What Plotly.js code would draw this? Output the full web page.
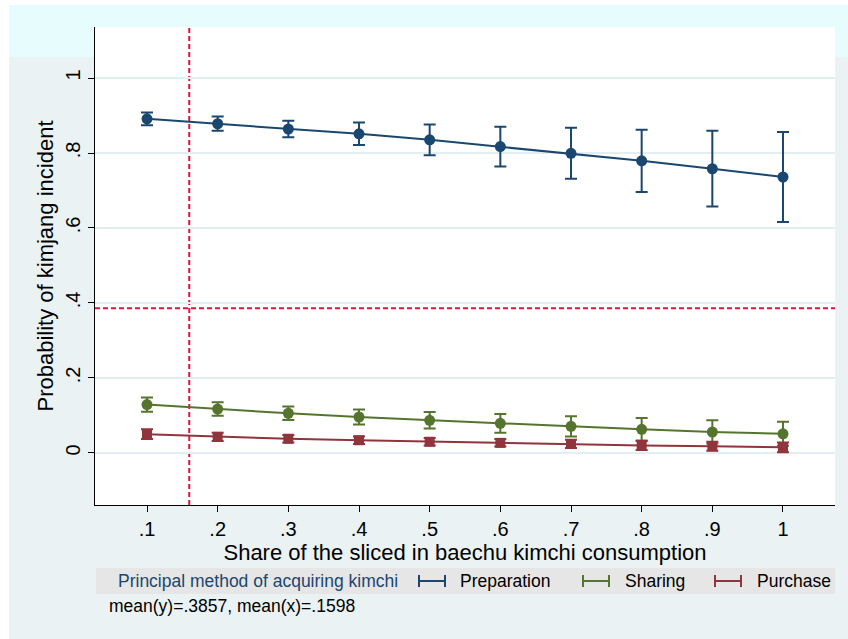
<!DOCTYPE html>
<html>
<head>
<meta charset="utf-8">
<script src="https://cdn.plot.ly/plotly-3.0.1.min.js"></script>
<style>html,body{margin:0;padding:0;background:#fff;}</style>
</head>
<body>
<div id="chart" style="width:848px;height:639px;"></div>
<script>
// ---- data ----
const xShare = [0.1, 0.2, 0.3, 0.4, 0.5, 0.6, 0.7, 0.8, 0.9, 1.0];
const xTickText = ['.1', '.2', '.3', '.4', '.5', '.6', '.7', '.8', '.9', '1'];
const yTickVals = [0, 0.2, 0.4, 0.6, 0.8, 1];
const yTickText = ['0', '.2', '.4', '.6', '.8', '1'];

const prepY   = [0.891, 0.878, 0.864, 0.851, 0.835, 0.817, 0.799, 0.779, 0.758, 0.736];
const prepErr = [0.017, 0.019, 0.022, 0.030, 0.041, 0.053, 0.068, 0.083, 0.101, 0.120];

const shareY   = [0.129, 0.117, 0.106, 0.096, 0.087, 0.079, 0.071, 0.063, 0.056, 0.051];
const shareErr = [0.019, 0.018, 0.018, 0.020, 0.022, 0.025, 0.027, 0.030, 0.031, 0.032];

const purchY   = [0.050, 0.043, 0.038, 0.034, 0.030, 0.027, 0.024, 0.020, 0.018, 0.015];
const purchErr = [0.013, 0.011, 0.010, 0.010, 0.010, 0.010, 0.011, 0.012, 0.012, 0.013];

const meanY = 0.3857;
const meanX = 0.1598;

const seriesNames = ['Preparation', 'Sharing', 'Purchase'];
const legendTitle = 'Principal method of acquiring kimchi';
const noteText = 'mean(y)=.3857, mean(x)=.1598';
const xTitle = 'Share of the sliced in baechu kimchi consumption';
const yTitle = 'Probability of kimjang incident';

// ---- styles ----
const colors = ['#1a476f', '#55752f', '#90353b'];
const FONT = 'Liberation Sans, Arial, Helvetica, sans-serif';
const W = 848, H = 639;
const M = {l: 95, r: 13, t: 27, b: 134};
const PW = W - M.l - M.r, PH = H - M.t - M.b;
const px = v => (v - M.l) / PW;          // pixel x -> paper
const py = v => (H - M.b - v) / PH;      // pixel y -> paper

function trace(y, err, name, color, symbol, size) {
  return {
    x: xShare, y: y, name: name, type: 'scatter', mode: 'lines+markers',
    line: {color: color, width: 2},
    marker: {color: color, symbol: symbol, size: size},
    error_y: {type: 'data', array: err, visible: true, color: color, thickness: 2, width: 6},
    showlegend: false, hoverinfo: 'skip'
  };
}

const data = [
  trace(prepY, prepErr, seriesNames[0], colors[0], 'circle', 11),
  trace(shareY, shareErr, seriesNames[1], colors[1], 'circle', 11),
  trace(purchY, purchErr, seriesNames[2], colors[2], 'square', 10)
];

const shapes = [
  // background regions
  {type: 'rect', xref: 'paper', yref: 'paper', x0: px(9), x1: px(848), y0: py(5), y1: py(57),
   fillcolor: '#e6fcfd', line: {width: 0}, layer: 'below'},
  {type: 'rect', xref: 'paper', yref: 'paper', x0: px(9), x1: px(848), y0: py(57), y1: py(639),
   fillcolor: '#eaf2f3', line: {width: 0}, layer: 'below'},
  {type: 'rect', xref: 'paper', yref: 'paper', x0: 0, x1: 1, y0: 0, y1: 1,
   fillcolor: '#ffffff', line: {width: 0}, layer: 'below'},
  // legend box
  {type: 'rect', xref: 'paper', yref: 'paper', x0: px(96), x1: px(835), y0: py(568), y1: py(594),
   fillcolor: '#e6e6e6', line: {width: 0}, layer: 'below'},
  // mean reference lines
  {type: 'line', xref: 'x', yref: 'paper', x0: meanX, x1: meanX, y0: 0, y1: 1,
   line: {color: '#e0143c', width: 2, dash: '5px,3px'}, layer: 'below'},
  {type: 'line', xref: 'paper', yref: 'y', x0: 0, x1: 1, y0: meanY, y1: meanY,
   line: {color: '#e0143c', width: 2, dash: '5px,3px'}, layer: 'below'}
];

// legend symbols |—|
const symX = [419, 583, 715];
const textX = [458, 623, 755];
const legY = 581;
symX.forEach((sx, i) => {
  shapes.push({type: 'line', xref: 'paper', yref: 'paper', x0: px(sx), x1: px(sx + 26), y0: py(legY), y1: py(legY),
    line: {color: colors[i], width: 2}});
  shapes.push({type: 'line', xref: 'paper', yref: 'paper', x0: px(sx), x1: px(sx), y0: py(legY - 6), y1: py(legY + 6),
    line: {color: colors[i], width: 2}});
  shapes.push({type: 'line', xref: 'paper', yref: 'paper', x0: px(sx + 26), x1: px(sx + 26), y0: py(legY - 6), y1: py(legY + 6),
    line: {color: colors[i], width: 2}});
});

const annotations = [
  {text: legendTitle, xref: 'paper', yref: 'paper', x: px(116), y: py(legY), xanchor: 'left', yanchor: 'middle',
   showarrow: false, font: {family: FONT, size: 17.5, color: '#1a476f'}},
  {text: noteText, xref: 'paper', yref: 'paper', x: px(107), y: py(606), xanchor: 'left', yanchor: 'middle',
   showarrow: false, font: {family: FONT, size: 17.5, color: '#000'}}
];
seriesNames.forEach((n, i) => {
  annotations.push({text: n, xref: 'paper', yref: 'paper', x: px(textX[i]), y: py(legY), xanchor: 'left', yanchor: 'middle',
    showarrow: false, font: {family: FONT, size: 17.5, color: '#000'}});
});

const layout = {
  width: W, height: H, margin: M,
  paper_bgcolor: '#ffffff', plot_bgcolor: '#ffffff',
  font: {family: FONT, color: '#000'},
  showlegend: false,
  xaxis: {
    range: [0.0264, 1.0736], tickmode: 'array', tickvals: xShare, ticktext: xTickText,
    showgrid: false, zeroline: false, showline: true, linecolor: '#000', linewidth: 1,
    ticks: 'outside', ticklen: 6, tickcolor: '#000', tickwidth: 1,
    tickfont: {family: FONT, size: 20, color: '#000'},
    title: {text: xTitle, font: {family: FONT, size: 22, color: '#000'}, standoff: 4}
  },
  yaxis: {
    range: [-0.1387, 1.136], tickmode: 'array', tickvals: yTickVals, ticktext: yTickText,
    tickangle: -90,
    showgrid: true, gridcolor: '#e3eef0', gridwidth: 1.5, zeroline: false,
    showline: true, linecolor: '#000', linewidth: 1,
    ticks: 'outside', ticklen: 6, tickcolor: '#000', tickwidth: 1,
    tickfont: {family: FONT, size: 20, color: '#000'},
    title: {text: yTitle, font: {family: FONT, size: 22, color: '#000'}, standoff: 2}
  },
  shapes: shapes,
  annotations: annotations
};

Plotly.newPlot('chart', data, layout, {staticPlot: true, displayModeBar: false});
</script>
</body>
</html>
